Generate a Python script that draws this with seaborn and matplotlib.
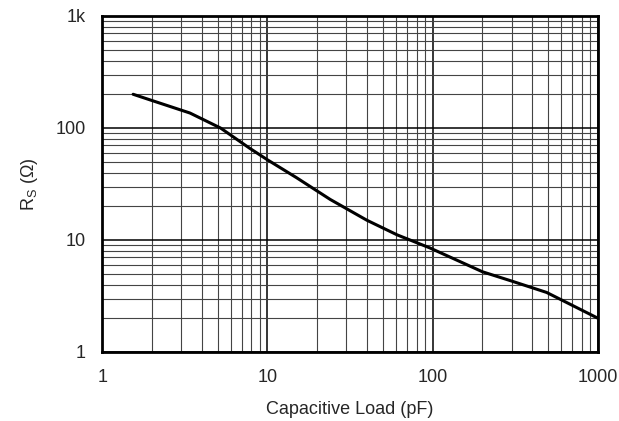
import numpy as np
import pandas as pd
import matplotlib
matplotlib.use("Agg")
import matplotlib.pyplot as plt
import seaborn as sns
from matplotlib.ticker import FixedLocator, LogLocator, NullFormatter

# Series resistance vs capacitive load
cap_load_pf = [1.54, 2.0, 3.4, 5.2, 7.8, 10, 15, 24, 40, 61, 96, 200, 300, 489, 1000]
rs_ohm = [200, 176, 136, 100, 66, 52, 36, 23, 15, 11.1, 8.5, 5.2, 4.3, 3.4, 2.0]

x_ticks = [1, 10, 100, 1000]
x_labels = ["1", "10", "100", "1000"]
y_ticks = [1, 10, 100, 1000]
y_labels = ["1", "10", "100", "1k"]

sns.set_style("white")
plt.rcParams['font.family'] = ['Liberation Sans', 'DejaVu Sans']
plt.rcParams['mathtext.fontset'] = 'custom'
plt.rcParams['mathtext.rm'] = 'Liberation Sans'

df = pd.DataFrame({'cap': cap_load_pf, 'rs': rs_ohm})

fig = plt.figure(figsize=(6.19, 4.21), dpi=100)
ax = fig.add_axes([0.165, 0.164, 0.801, 0.798])

sns.lineplot(data=df, x='cap', y='rs', color='black', lw=2.2, ax=ax)

ax.set_xscale('log')
ax.set_yscale('log')
ax.set_xlim(1, 1000)
ax.set_ylim(1, 1000)

ax.xaxis.set_major_locator(FixedLocator(x_ticks))
ax.yaxis.set_major_locator(FixedLocator(y_ticks))
ax.set_xticklabels(x_labels)
ax.set_yticklabels(y_labels)
ax.xaxis.set_minor_locator(LogLocator(base=10, subs=np.arange(2, 10)))
ax.yaxis.set_minor_locator(LogLocator(base=10, subs=np.arange(2, 10)))
ax.xaxis.set_minor_formatter(NullFormatter())
ax.yaxis.set_minor_formatter(NullFormatter())

ax.grid(which='major', color='black', lw=1.1)
ax.grid(which='minor', color='#444444', lw=0.8)
ax.tick_params(which='both', length=0, labelsize=13, pad=12)

for s in ax.spines.values():
    s.set_linewidth(2)
    s.set_color('black')

ax.set_xlabel('Capacitive Load (pF)', fontsize=13, labelpad=11)
ax.set_ylabel(r'R$_\mathregular{S}$ ($\Omega$)', fontsize=13, labelpad=11)

fig.savefig('out.png', dpi=100, facecolor='white')
